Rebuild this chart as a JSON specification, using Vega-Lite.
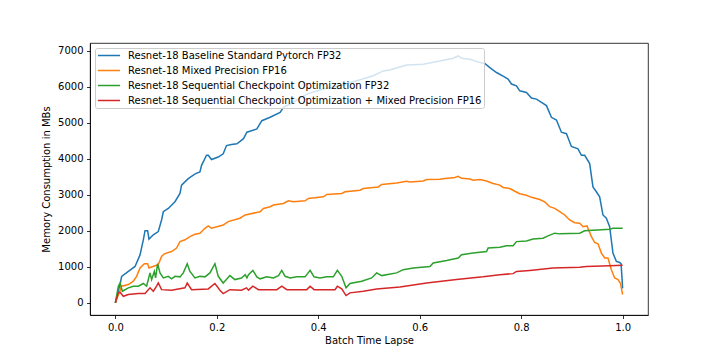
{
  "$schema": "https://vega.github.io/schema/vega-lite/v6.json",
  "width": 558,
  "height": 272,
  "autosize": {"type": "none"},
  "padding": {"left": 90, "top": 43, "right": 72, "bottom": 45},
  "background": "white",
  "datasets": {
    "blue": [
      {"x":0,"y":0},{"x":0.0098,"y":550},{"x":0.0124,"y":735},{"x":0.0256,"y":870},{"x":0.0388,"y":1010},{"x":0.0486,"y":1330},{"x":0.0551,"y":1750},{"x":0.0585,"y":2005},{"x":0.0636,"y":2005},{"x":0.0663,"y":1770},{"x":0.0748,"y":1890},{"x":0.0846,"y":1980},{"x":0.0911,"y":2300},{"x":0.0945,"y":2530},{"x":0.1043,"y":2620},{"x":0.1175,"y":2810},{"x":0.1274,"y":3040},{"x":0.1305,"y":3270},{"x":0.1437,"y":3450},{"x":0.1581,"y":3590},{"x":0.1667,"y":3635},{"x":0.1699,"y":3820},{"x":0.1797,"y":4100},{"x":0.1831,"y":4100},{"x":0.1896,"y":3980},{"x":0.2028,"y":4050},{"x":0.2126,"y":4140},{"x":0.2191,"y":4370},{"x":0.2289,"y":4400},{"x":0.2396,"y":4420},{"x":0.2526,"y":4560},{"x":0.2593,"y":4740},{"x":0.2789,"y":4830},{"x":0.2888,"y":5060},{"x":0.3051,"y":5155},{"x":0.3248,"y":5290},{"x":0.3313,"y":5430},{"x":0.3445,"y":5525},{"x":0.3774,"y":5800},{"x":0.41,"y":5940},{"x":0.4429,"y":6030},{"x":0.4758,"y":6170},{"x":0.5085,"y":6310},{"x":0.5281,"y":6445},{"x":0.5413,"y":6470},{"x":0.5742,"y":6610},{"x":0.6069,"y":6630},{"x":0.6398,"y":6720},{"x":0.6659,"y":6795},{"x":0.6758,"y":6860},{"x":0.6825,"y":6795},{"x":0.6988,"y":6770},{"x":0.7185,"y":6675},{"x":0.7283,"y":6650},{"x":0.7382,"y":6535},{"x":0.7514,"y":6400},{"x":0.7644,"y":6300},{"x":0.7742,"y":6215},{"x":0.7809,"y":6080},{"x":0.7907,"y":6030},{"x":0.7972,"y":5890},{"x":0.8104,"y":5845},{"x":0.8203,"y":5690},{"x":0.8301,"y":5660},{"x":0.84,"y":5570},{"x":0.8498,"y":5480},{"x":0.8596,"y":5155},{"x":0.8695,"y":5080},{"x":0.8793,"y":4740},{"x":0.8892,"y":4700},{"x":0.899,"y":4345},{"x":0.912,"y":4280},{"x":0.9187,"y":4100},{"x":0.9252,"y":4100},{"x":0.935,"y":3870},{"x":0.9415,"y":3220},{"x":0.9482,"y":3085},{"x":0.9547,"y":2945},{"x":0.9612,"y":2440},{"x":0.9679,"y":2350},{"x":0.9744,"y":2115},{"x":0.9809,"y":1380},{"x":0.9876,"y":1150},{"x":0.9941,"y":1120},{"x":0.997,"y":1080},{"x":1.0,"y":400}
    ],
    "orange": [
      {"x":0,"y":0},{"x":0.0124,"y":460},{"x":0.0256,"y":505},{"x":0.0354,"y":600},{"x":0.0419,"y":735},{"x":0.0486,"y":965},{"x":0.0571,"y":1085},{"x":0.0636,"y":1085},{"x":0.0663,"y":965},{"x":0.0781,"y":1030},{"x":0.0846,"y":1060},{"x":0.0911,"y":1290},{"x":0.0965,"y":1360},{"x":0.1108,"y":1425},{"x":0.1207,"y":1520},{"x":0.1274,"y":1700},{"x":0.1372,"y":1750},{"x":0.147,"y":1840},{"x":0.1569,"y":1905},{"x":0.1667,"y":1930},{"x":0.1766,"y":2070},{"x":0.1831,"y":2135},{"x":0.1896,"y":2070},{"x":0.2126,"y":2160},{"x":0.2224,"y":2255},{"x":0.2455,"y":2350},{"x":0.2559,"y":2440},{"x":0.2854,"y":2530},{"x":0.2919,"y":2620},{"x":0.3051,"y":2670},{"x":0.3116,"y":2715},{"x":0.3313,"y":2760},{"x":0.3411,"y":2835},{"x":0.351,"y":2805},{"x":0.374,"y":2835},{"x":0.3805,"y":2900},{"x":0.41,"y":2945},{"x":0.4167,"y":3010},{"x":0.4463,"y":3040},{"x":0.4528,"y":3085},{"x":0.4823,"y":3130},{"x":0.4888,"y":3175},{"x":0.5183,"y":3220},{"x":0.525,"y":3290},{"x":0.5545,"y":3330},{"x":0.5742,"y":3380},{"x":0.5807,"y":3360},{"x":0.6069,"y":3385},{"x":0.6136,"y":3425},{"x":0.6398,"y":3435},{"x":0.6463,"y":3450},{"x":0.6693,"y":3480},{"x":0.6758,"y":3515},{"x":0.6825,"y":3460},{"x":0.6988,"y":3440},{"x":0.7053,"y":3405},{"x":0.7185,"y":3425},{"x":0.7317,"y":3385},{"x":0.7447,"y":3315},{"x":0.7579,"y":3270},{"x":0.7644,"y":3205},{"x":0.7776,"y":3175},{"x":0.7874,"y":3100},{"x":0.7972,"y":3030},{"x":0.8104,"y":2990},{"x":0.8203,"y":2930},{"x":0.8366,"y":2870},{"x":0.8465,"y":2805},{"x":0.8563,"y":2670},{"x":0.8661,"y":2625},{"x":0.876,"y":2530},{"x":0.8858,"y":2440},{"x":0.8957,"y":2300},{"x":0.9055,"y":2225},{"x":0.9154,"y":2210},{"x":0.9219,"y":2115},{"x":0.9297,"y":2135},{"x":0.9384,"y":1840},{"x":0.9449,"y":1675},{"x":0.9514,"y":1640},{"x":0.9581,"y":1380},{"x":0.9646,"y":1245},{"x":0.9711,"y":1245},{"x":0.9778,"y":920},{"x":0.9843,"y":690},{"x":0.9908,"y":645},{"x":0.9955,"y":550},{"x":1.0,"y":230}
    ],
    "green": [
      {"x":0,"y":0},{"x":0.0059,"y":460},{"x":0.0093,"y":550},{"x":0.0138,"y":320},{"x":0.0256,"y":415},{"x":0.0354,"y":460},{"x":0.0453,"y":460},{"x":0.0551,"y":535},{"x":0.0616,"y":460},{"x":0.0683,"y":830},{"x":0.0715,"y":645},{"x":0.0768,"y":870},{"x":0.0793,"y":690},{"x":0.0833,"y":1085},{"x":0.088,"y":830},{"x":0.0945,"y":690},{"x":0.1043,"y":735},{"x":0.1108,"y":665},{"x":0.1175,"y":735},{"x":0.1274,"y":720},{"x":0.1339,"y":830},{"x":0.1417,"y":1085},{"x":0.147,"y":870},{"x":0.1569,"y":690},{"x":0.1667,"y":735},{"x":0.1766,"y":720},{"x":0.1864,"y":830},{"x":0.1963,"y":1085},{"x":0.2028,"y":735},{"x":0.2126,"y":550},{"x":0.2258,"y":755},{"x":0.2356,"y":645},{"x":0.2486,"y":690},{"x":0.2559,"y":780},{"x":0.2593,"y":690},{"x":0.2624,"y":780},{"x":0.2711,"y":900},{"x":0.2789,"y":720},{"x":0.2854,"y":665},{"x":0.2986,"y":720},{"x":0.3116,"y":690},{"x":0.3215,"y":755},{"x":0.3281,"y":900},{"x":0.3346,"y":735},{"x":0.3445,"y":690},{"x":0.3577,"y":720},{"x":0.374,"y":720},{"x":0.3839,"y":900},{"x":0.3917,"y":720},{"x":0.4035,"y":690},{"x":0.4167,"y":720},{"x":0.4297,"y":720},{"x":0.4376,"y":900},{"x":0.4463,"y":735},{"x":0.4547,"y":415},{"x":0.4626,"y":535},{"x":0.4856,"y":600},{"x":0.5053,"y":690},{"x":0.5151,"y":830},{"x":0.525,"y":755},{"x":0.5545,"y":830},{"x":0.5675,"y":920},{"x":0.5872,"y":965},{"x":0.6201,"y":1010},{"x":0.6266,"y":1105},{"x":0.653,"y":1175},{"x":0.6758,"y":1245},{"x":0.6825,"y":1335},{"x":0.7053,"y":1380},{"x":0.7317,"y":1425},{"x":0.7348,"y":1520},{"x":0.7579,"y":1545},{"x":0.7711,"y":1585},{"x":0.7841,"y":1585},{"x":0.7907,"y":1700},{"x":0.8104,"y":1720},{"x":0.8234,"y":1770},{"x":0.8431,"y":1795},{"x":0.853,"y":1860},{"x":0.8661,"y":1935},{"x":0.876,"y":1915},{"x":0.9154,"y":1935},{"x":0.9252,"y":2000},{"x":0.9744,"y":2045},{"x":0.9809,"y":2070},{"x":1.0,"y":2070}
    ],
    "red": [
      {"x":0,"y":0},{"x":0.0059,"y":275},{"x":0.0093,"y":290},{"x":0.0157,"y":180},{"x":0.0256,"y":230},{"x":0.0453,"y":255},{"x":0.0585,"y":255},{"x":0.0683,"y":415},{"x":0.0748,"y":320},{"x":0.0813,"y":460},{"x":0.0846,"y":550},{"x":0.0911,"y":365},{"x":0.1108,"y":350},{"x":0.1372,"y":415},{"x":0.1417,"y":550},{"x":0.1502,"y":365},{"x":0.1831,"y":385},{"x":0.1963,"y":535},{"x":0.2061,"y":350},{"x":0.2126,"y":255},{"x":0.2258,"y":365},{"x":0.2486,"y":350},{"x":0.2585,"y":415},{"x":0.2624,"y":350},{"x":0.2711,"y":460},{"x":0.2821,"y":365},{"x":0.3183,"y":365},{"x":0.3281,"y":460},{"x":0.338,"y":365},{"x":0.3774,"y":365},{"x":0.3839,"y":460},{"x":0.3917,"y":365},{"x":0.4331,"y":365},{"x":0.4376,"y":460},{"x":0.4463,"y":385},{"x":0.4547,"y":200},{"x":0.4626,"y":275},{"x":0.4888,"y":320},{"x":0.5151,"y":385},{"x":0.561,"y":440},{"x":0.6136,"y":550},{"x":0.6726,"y":645},{"x":0.725,"y":720},{"x":0.7579,"y":780},{"x":0.7841,"y":810},{"x":0.7907,"y":870},{"x":0.8169,"y":900},{"x":0.8628,"y":965},{"x":0.9154,"y":985},{"x":0.9285,"y":1010},{"x":0.9744,"y":1030},{"x":1.0,"y":1040}
    ]
  },
  "encoding": {
    "x": {
      "field": "x", "type": "quantitative",
      "scale": {"domain": [-0.05, 1.05], "nice": false, "zero": false},
      "axis": {"title": "Batch Time Lapse", "values": [0, 0.2, 0.4, 0.6, 0.8, 1.0], "format": ".1f", "titlePadding": 3}
    },
    "y": {
      "field": "y", "type": "quantitative",
      "scale": {"domain": [-340, 7220], "nice": false, "zero": false},
      "axis": {"title": "Memory Consumption in MBs", "values": [0, 1000, 2000, 3000, 4000, 5000, 6000, 7000], "format": "d", "titlePadding": 6, "labelOverlap": false}
    }
  },
  "layer": [
    {
      "data": {"name": "blue"},
      "mark": {"type": "line", "strokeWidth": 1.5},
      "encoding": {"color": {"datum": "Resnet-18 Baseline Standard Pytorch FP32", "type": "nominal"}}
    },
    {
      "data": {"name": "orange"},
      "mark": {"type": "line", "strokeWidth": 1.5},
      "encoding": {"color": {"datum": "Resnet-18 Mixed Precision FP16", "type": "nominal"}}
    },
    {
      "data": {"name": "green"},
      "mark": {"type": "line", "strokeWidth": 1.5},
      "encoding": {"color": {"datum": "Resnet-18 Sequential Checkpoint Optimization FP32", "type": "nominal"}}
    },
    {
      "data": {"name": "red"},
      "mark": {"type": "line", "strokeWidth": 1.5},
      "encoding": {
        "color": {
          "datum": "Resnet-18 Sequential Checkpoint Optimization + Mixed Precision FP16", "type": "nominal",
          "scale": {
            "domain": [
              "Resnet-18 Baseline Standard Pytorch FP32",
              "Resnet-18 Mixed Precision FP16",
              "Resnet-18 Sequential Checkpoint Optimization FP32",
              "Resnet-18 Sequential Checkpoint Optimization + Mixed Precision FP16"
            ],
            "range": ["#1f77b4", "#ff7f0e", "#2ca02c", "#d62728"]
          },
          "legend": {
            "title": null,
            "orient": "none",
            "legendX": 5,
            "legendY": 5,
            "symbolType": "stroke",
            "symbolSize": 484,
            "symbolStrokeWidth": 1.5,
            "clipHeight": 11,
            "rowPadding": 4,
            "padding": 2,
            "labelOffset": 7,
            "labelFontSize": 10,
            "labelColor": "#000",
            "labelLimit": 500,
            "fillColor": "rgba(255,255,255,0.8)",
            "strokeColor": "#cccccc",
            "cornerRadius": 2
          }
        }
      }
    }
  ],
  "config": {
    "font": "DejaVu Sans",
    "view": {"stroke": "#000", "strokeWidth": 0.8},
    "axis": {
      "grid": false,
      "domainColor": "#000",
      "domainWidth": 0.8,
      "tickColor": "#000",
      "tickWidth": 0.8,
      "tickSize": 3.5,
      "labelFontSize": 10,
      "labelColor": "#000",
      "labelPadding": 3.5,
      "titleFontSize": 10,
      "titleFontWeight": "normal",
      "titleColor": "#000"
    }
  }
}
